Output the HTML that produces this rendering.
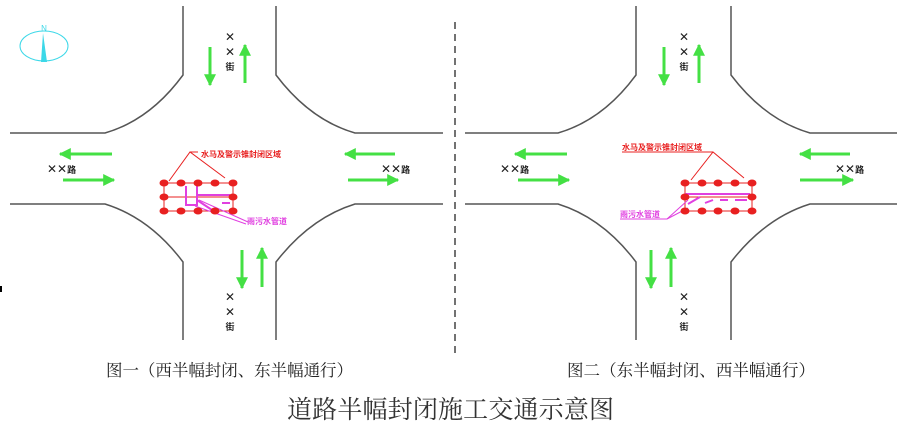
<!DOCTYPE html>
<html><head><meta charset="utf-8"><style>
html,body{margin:0;padding:0;background:#fff;width:908px;height:426px;overflow:hidden}
svg{display:block}
.cj{font-family:"Liberation Serif","Noto Serif CJK SC",serif}
.s{font-family:"Liberation Sans","Noto Sans CJK SC",sans-serif}
</style></head><body>
<svg width="908" height="426" viewBox="0 0 908 426" xmlns="http://www.w3.org/2000/svg">
<defs>
<marker id="ah" viewBox="0 0 10 10" refX="9" refY="5" markerWidth="4" markerHeight="4" orient="auto" markerUnits="strokeWidth">
<path d="M0,0 L10,5 L0,10 z" fill="#44e044"/></marker>
</defs>
<!-- compass -->
<ellipse cx="44" cy="46" rx="24" ry="15" fill="none" stroke="#3cd8e8" stroke-width="1"/>
<polygon points="43,33 41,62 47,62" fill="#3cd8e8"/>
<text x="44" y="31" font-size="8" fill="#3cd8e8" text-anchor="middle" class="s">N</text>
<rect x="0" y="286" width="2" height="6" fill="#000"/>
<!-- dashed divider -->
<line x1="455" y1="22" x2="455" y2="357" stroke="#444" stroke-width="1.5" stroke-dasharray="7,5"/>

<g fill="none" stroke="#555" stroke-width="1.5">
<!-- left intersection -->
<path d="M183,6 V75 Q150,120 105,133 H10"/>
<path d="M276,6 V75 Q310,120 355,133 H443"/>
<path d="M183,340 V262 Q150,218 105,204 H10"/>
<path d="M276,340 V262 Q310,218 355,204 H443"/>
<!-- right intersection -->
<path d="M636,6 V75 Q603,120 558,133 H465"/>
<path d="M731,6 V75 Q765,120 810,133 H897"/>
<path d="M636,340 V262 Q603,218 558,204 H465"/>
<path d="M731,340 V262 Q765,218 810,204 H897"/>
</g>

<g stroke="#44e044" stroke-width="3" marker-end="url(#ah)">
<line x1="210" y1="47" x2="210" y2="85"/>
<line x1="245" y1="83" x2="245" y2="45"/>
<line x1="112" y1="154" x2="60" y2="154"/>
<line x1="63" y1="180" x2="114" y2="180"/>
<line x1="395" y1="154" x2="345" y2="154"/>
<line x1="348" y1="180" x2="398" y2="180"/>
<line x1="242" y1="250" x2="242" y2="288"/>
<line x1="262" y1="287" x2="262" y2="248"/>

<line x1="664" y1="47" x2="664" y2="85"/>
<line x1="699" y1="83" x2="699" y2="45"/>
<line x1="567" y1="154" x2="515" y2="154"/>
<line x1="518" y1="180" x2="569" y2="180"/>
<line x1="850" y1="154" x2="800" y2="154"/>
<line x1="800" y1="180" x2="853" y2="180"/>
<line x1="651" y1="250" x2="651" y2="288"/>
<line x1="671" y1="287" x2="671" y2="248"/>
</g>

<g class="s" font-size="12" fill="#222" text-anchor="middle">
<text x="230" y="41">✕</text><text x="230" y="56">✕</text><text x="230" y="70" font-size="9" font-weight="bold">街</text>
<text x="230" y="301">✕</text><text x="230" y="316">✕</text><text x="230" y="330" font-size="9" font-weight="bold">街</text>
<text x="684" y="41">✕</text><text x="684" y="56">✕</text><text x="684" y="70" font-size="9" font-weight="bold">街</text>
<text x="684" y="301">✕</text><text x="684" y="316">✕</text><text x="684" y="330" font-size="9" font-weight="bold">街</text>
</g>
<g class="s" font-size="12" fill="#222">
<text x="47" y="173">✕✕<tspan font-size="9" font-weight="bold">路</tspan></text>
<text x="381" y="173">✕✕<tspan font-size="9" font-weight="bold">路</tspan></text>
<text x="500" y="173">✕✕<tspan font-size="9" font-weight="bold">路</tspan></text>
<text x="835" y="173">✕✕<tspan font-size="9" font-weight="bold">路</tspan></text>
</g>

<!-- left closure -->
<g stroke="#e82020" stroke-width="1" fill="none">
<rect x="164" y="183" width="69" height="28"/>
<line x1="164" y1="197" x2="233" y2="197"/>
<polyline points="169,181 190,152 225,178"/>
<line x1="190" y1="152" x2="198" y2="152"/>
</g>
<g stroke="#e040e0" stroke-width="2" fill="none">
<polyline points="186,186 186,205 197,205 197,186"/>
<line x1="197" y1="195" x2="230" y2="195"/>
<line x1="197" y1="200" x2="212" y2="210"/>
<line x1="222" y1="203" x2="230" y2="203"/>
<line x1="199" y1="200" x2="248" y2="222" stroke-width="1"/>
<line x1="195" y1="206" x2="246" y2="224" stroke-width="1"/>
</g>
<g fill="#e82020">
<ellipse cx="164" cy="183" rx="4.5" ry="3.5"/><ellipse cx="181" cy="183" rx="4.5" ry="3.5"/><ellipse cx="198" cy="183" rx="4.5" ry="3.5"/><ellipse cx="215" cy="183" rx="4.5" ry="3.5"/><ellipse cx="233" cy="183" rx="4.5" ry="3.5"/>
<ellipse cx="164" cy="197" rx="4.5" ry="3.5"/><ellipse cx="233" cy="197" rx="4.5" ry="3.5"/>
<ellipse cx="164" cy="211" rx="4.5" ry="3.5"/><ellipse cx="181" cy="211" rx="4.5" ry="3.5"/><ellipse cx="198" cy="211" rx="4.5" ry="3.5"/><ellipse cx="215" cy="211" rx="4.5" ry="3.5"/><ellipse cx="233" cy="211" rx="4.5" ry="3.5"/>
</g>
<text x="201" y="157" font-size="8" fill="#e82020" font-weight="bold" class="s">水马及警示锥封闭区域</text>
<text x="247" y="224" font-size="8" fill="#e040e0" font-weight="bold" class="s">雨污水管道</text>

<!-- right closure -->
<g stroke="#e82020" stroke-width="1" fill="none">
<rect x="685" y="183" width="67" height="28"/>
<line x1="685" y1="197" x2="752" y2="197"/>
<polyline points="691,180 713,152 744,178"/>
<line x1="622" y1="152" x2="713" y2="152"/>
</g>
<g stroke="#e040e0" stroke-width="2" fill="none">
<line x1="685" y1="194" x2="750" y2="194"/>
<line x1="688" y1="204" x2="700" y2="197"/>
<line x1="705" y1="203" x2="713" y2="200"/>
<line x1="720" y1="200" x2="728" y2="200"/>
<line x1="735" y1="200" x2="747" y2="200"/>
<line x1="620" y1="219" x2="667" y2="219" stroke-width="1"/>
<line x1="667" y1="219" x2="688" y2="200" stroke-width="1"/>
<line x1="667" y1="219" x2="688" y2="208" stroke-width="1"/>
</g>
<g fill="#e82020">
<ellipse cx="685" cy="183" rx="4.5" ry="3.5"/><ellipse cx="702" cy="183" rx="4.5" ry="3.5"/><ellipse cx="718" cy="183" rx="4.5" ry="3.5"/><ellipse cx="735" cy="183" rx="4.5" ry="3.5"/><ellipse cx="752" cy="183" rx="4.5" ry="3.5"/>
<ellipse cx="685" cy="197" rx="4.5" ry="3.5"/><ellipse cx="752" cy="197" rx="4.5" ry="3.5"/>
<ellipse cx="685" cy="211" rx="4.5" ry="3.5"/><ellipse cx="702" cy="211" rx="4.5" ry="3.5"/><ellipse cx="718" cy="211" rx="4.5" ry="3.5"/><ellipse cx="735" cy="211" rx="4.5" ry="3.5"/><ellipse cx="752" cy="211" rx="4.5" ry="3.5"/>
</g>
<text x="622" y="150" font-size="8" fill="#e82020" font-weight="bold" class="s">水马及警示锥封闭区域</text>
<text x="620" y="217" font-size="8" fill="#e040e0" font-weight="bold" class="s">雨污水管道</text>

<!-- captions -->
<text x="106" y="376" font-size="16.5" fill="#222" class="cj" textLength="247">图一（西半幅封闭、东半幅通行）</text>
<text x="567" y="376" font-size="16.5" fill="#222" class="cj" textLength="248">图二（东半幅封闭、西半幅通行）</text>
<text x="287" y="418" font-size="25" fill="#333" class="cj" textLength="327">道路半幅封闭施工交通示意图</text>
</svg>
</body></html>
